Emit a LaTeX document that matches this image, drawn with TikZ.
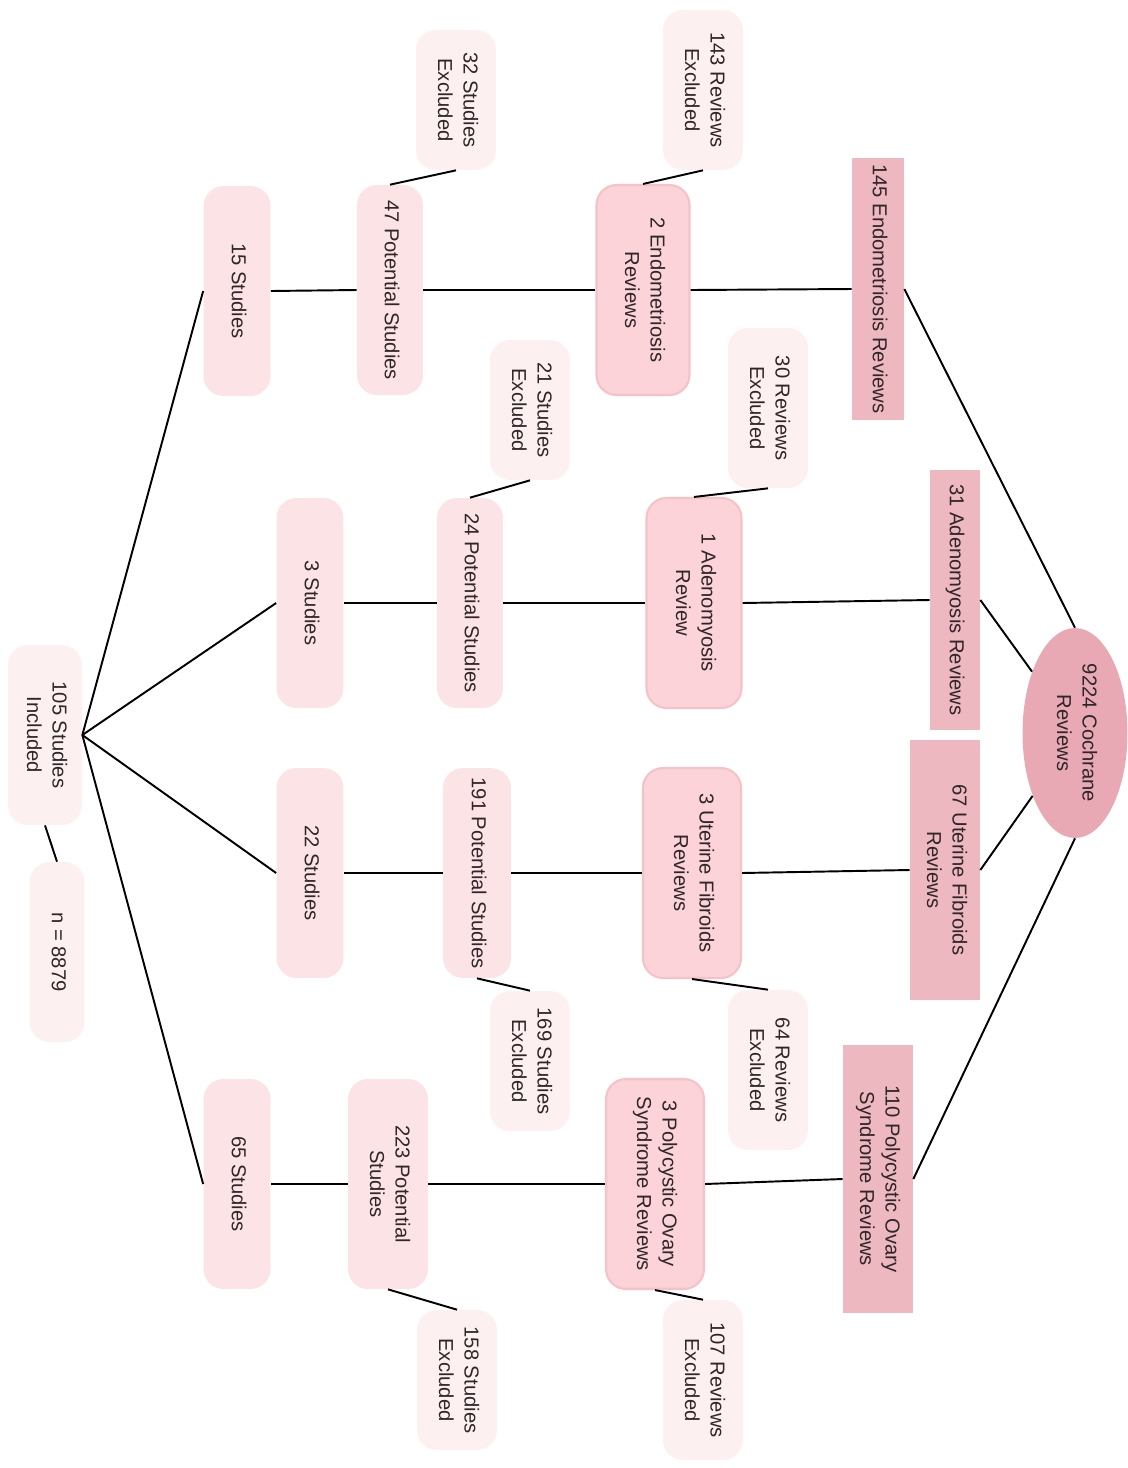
\documentclass[tikz,border=0pt]{standalone}
\usepackage{fontspec}
\setmainfont{Liberation Sans}
\usepackage{graphicx}
\usetikzlibrary{shapes.geometric}

\definecolor{cochpink}{HTML}{E8A9B4}
\definecolor{toppink}{HTML}{EDB8BF}
\definecolor{revpink}{HTML}{FBD3D8}
\definecolor{revline}{HTML}{F5C2C8}
\definecolor{studpink}{HTML}{FCE3E6}
\definecolor{expink}{HTML}{FDF0F1}
\definecolor{txtgray}{HTML}{2E2628}

\newcommand{\vtxt}[1]{\rotatebox{-90}{\begin{tabular}{@{}c@{}}#1\end{tabular}}}

\tikzset{
  base/.style={inner sep=0pt, text=txtgray, font=\fontsize{11.5}{14.5}\selectfont},
  cochrane/.style={base, ellipse, fill=cochpink, minimum width=2.1cm, minimum height=4.2cm},
  topbox/.style={base, rectangle, fill=toppink, minimum width=1.4cm, minimum height=5.2cm},
  revbox/.style={base, rounded corners=0.4cm, fill=revpink, draw=revline, line width=1.2pt, minimum width=1.9cm, minimum height=4.2cm},
  studbox/.style={base, rounded corners=0.4cm, fill=studpink, minimum width=1.34cm, minimum height=4.2cm},
  exbox/.style={base, rounded corners=0.4cm, fill=expink, minimum width=1.6cm, minimum height=3.2cm},
  link/.style={black, line width=1.1pt}
}

\begin{document}
\begin{tikzpicture}[x=0.02cm, y=-0.02cm]
  \useasboundingbox (0,0) rectangle (1127,1468);

  % Nodes
  \node[cochrane] (coch) at (1075,733) {\vtxt{9224 Cochrane\\Reviews}};

  \node[topbox, minimum width=1.04cm, minimum height=5.24cm] (endoR) at (878,289) {\vtxt{145 Endometriosis Reviews}};
  \node[topbox, minimum width=1.0cm] (adenoR) at (955,600) {\vtxt{31 Adenomyosis Reviews}};
  \node[topbox] (fibR) at (945,870) {\vtxt{67 Uterine Fibroids\\Reviews}};
  \node[topbox, minimum height=5.36cm] (pcosR) at (878,1179) {\vtxt{110 Polycystic Ovary\\Syndrome Reviews}};

  \node[revbox, minimum width=1.86cm] (endoRev) at (643,290) {\vtxt{2 Endometriosis\\Reviews}};
  \node[revbox] (adenoRev) at (694,603) {\vtxt{1 Adenomyosis\\Review}};
  \node[revbox, minimum width=1.96cm] (fibRev) at (692,873) {\vtxt{3 Uterine Fibroids\\Reviews}};
  \node[revbox, minimum width=1.96cm] (pcosRev) at (655,1184) {\vtxt{3 Polycystic Ovary\\Syndrome Reviews}};

  \node[exbox] (endoRevEx) at (703,90) {\vtxt{143 Reviews\\Excluded}};
  \node[exbox] (adenoRevEx) at (768,408) {\vtxt{30 Reviews\\Excluded}};
  \node[exbox] (fibRevEx) at (768,1070) {\vtxt{64 Reviews\\Excluded}};
  \node[exbox] (pcosRevEx) at (703,1380) {\vtxt{107 Reviews\\Excluded}};

  \node[studbox, minimum width=1.32cm] (endoPot) at (390,290) {\vtxt{47 Potential Studies}};
  \node[studbox, minimum width=1.32cm] (adenoPot) at (470,603) {\vtxt{24 Potential Studies}};
  \node[studbox, minimum width=1.36cm] (fibPot) at (477,873) {\vtxt{191 Potential Studies}};
  \node[studbox, minimum width=1.6cm] (pcosPot) at (388,1184) {\vtxt{223 Potential\\Studies}};

  \node[exbox, minimum height=2.8cm] (endoPotEx) at (456,100) {\vtxt{32 Studies\\Excluded}};
  \node[exbox, minimum height=2.8cm] (adenoPotEx) at (530,410) {\vtxt{21 Studies\\Excluded}};
  \node[exbox, minimum height=2.8cm] (fibPotEx) at (530,1061) {\vtxt{169 Studies\\Excluded}};
  \node[exbox, minimum height=2.8cm] (pcosPotEx) at (457,1380) {\vtxt{158 Studies\\Excluded}};

  \node[studbox] (endoSt) at (237,291) {\vtxt{15 Studies}};
  \node[studbox] (adenoSt) at (310,603) {\vtxt{3 Studies}};
  \node[studbox] (fibSt) at (310,873) {\vtxt{22 Studies}};
  \node[studbox] (pcosSt) at (237,1184) {\vtxt{65 Studies}};

  \node[exbox, minimum width=1.48cm, minimum height=3.6cm] (incl) at (45,735) {\vtxt{105 Studies\\Included}};
  \node[exbox, minimum width=1.1cm, minimum height=3.6cm] (total) at (57,952) {\vtxt{n = 8879}};

  % Edges
  \draw[link] (endoR.east) -- (coch.north);
  \draw[link] (adenoR.east) -- (coch.125);
  \draw[link] (fibR.east) -- (coch.236);
  \draw[link] (pcosR.east) -- (coch.south);

  \draw[link] (endoR.west) -- (endoRev.east);
  \draw[link] (adenoR.west) -- (adenoRev.east);
  \draw[link] (fibR.west) -- (fibRev.east);
  \draw[link] (pcosR.west) -- (pcosRev.east);

  \draw[link] (endoRev.north) -- (endoRevEx.south);
  \draw[link] (adenoRev.north) -- (adenoRevEx.south);
  \draw[link] (fibRev.south) -- (fibRevEx.north);
  \draw[link] (pcosRev.south) -- (pcosRevEx.north);

  \draw[link] (endoRev.west) -- (endoPot.east);
  \draw[link] (adenoRev.west) -- (adenoPot.east);
  \draw[link] (fibRev.west) -- (fibPot.east);
  \draw[link] (pcosRev.west) -- (pcosPot.east);

  \draw[link] (endoPot.north) -- (endoPotEx.south);
  \draw[link] (adenoPot.north) -- (adenoPotEx.south);
  \draw[link] (fibPot.south) -- (fibPotEx.north);
  \draw[link] (pcosPot.south) -- (pcosPotEx.north);

  \draw[link] (endoPot.west) -- (endoSt.east);
  \draw[link] (adenoPot.west) -- (adenoSt.east);
  \draw[link] (fibPot.west) -- (fibSt.east);
  \draw[link] (pcosPot.west) -- (pcosSt.east);

  \draw[link] (incl.east) -- (endoSt.west);
  \draw[link] (incl.east) -- (adenoSt.west);
  \draw[link] (incl.east) -- (fibSt.west);
  \draw[link] (incl.east) -- (pcosSt.west);

  \draw[link] (incl.south) -- (total.north);
\end{tikzpicture}
\end{document}
